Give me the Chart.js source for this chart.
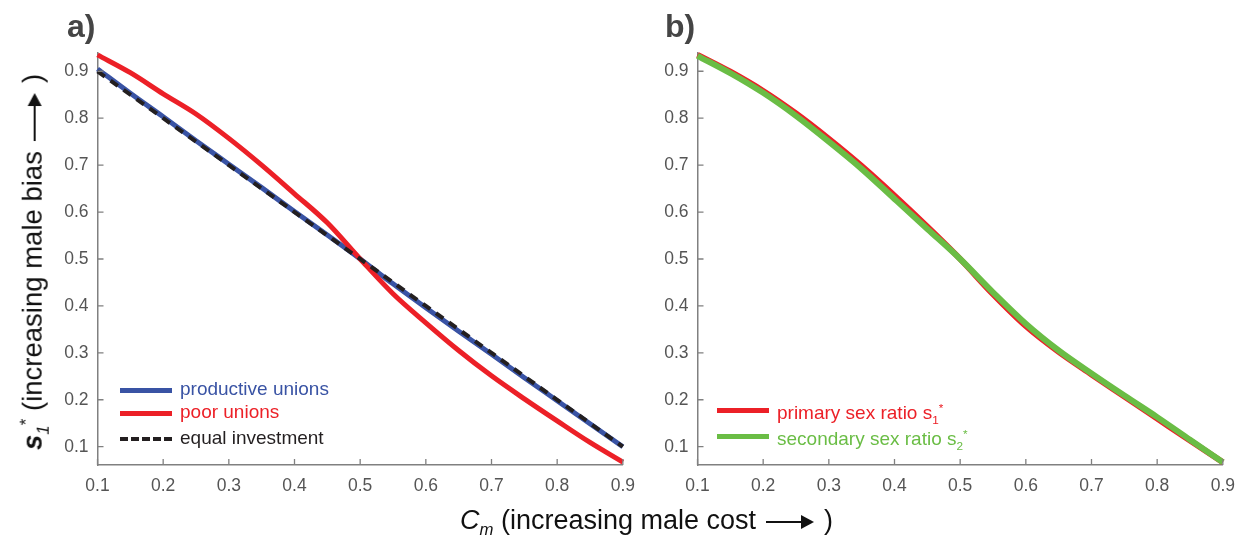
<!DOCTYPE html>
<html>
<head>
<meta charset="utf-8">
<script src="https://cdn.jsdelivr.net/npm/chart.js@4.4.1/dist/chart.umd.min.js"></script>
<style>
  body { margin: 0; background: #fff; width: 1242px; height: 547px; position: relative; overflow: hidden;
         font-family: "Liberation Sans", Arial, sans-serif; }
  .abs { position: absolute; white-space: nowrap; }
  .panel { font-weight: bold; font-size: 32px; color: #454545; }
  .leg { font-size: 19px; line-height: 22px; }
  .sw { position: absolute; width: 52px; height: 0; }
  .title { font-size: 27px; color: #111; }
  sub, sup { font-size: 62%; }
  .arrow { display: inline-block; position: relative; width: 36px; height: 2px; background: #111;
           vertical-align: middle; margin: 0 22px 0 10px; }
  .arrow::after { content: ""; position: absolute; right: -12px; top: -6px; border-left: 13px solid #111;
                  border-top: 7px solid transparent; border-bottom: 7px solid transparent; }
</style>
</head>
<body>

<canvas id="chartA" class="abs" style="left:40px;top:33px" width="606" height="477"></canvas>
<canvas id="chartB" class="abs" style="left:640px;top:33px" width="606" height="477"></canvas>

<div class="abs panel" style="left:67px;top:8px">a)</div>
<div class="abs panel" style="left:665px;top:8px">b)</div>

<!-- legend a -->
<div class="sw" style="left:120px;top:388px;border-top:5px solid #3953a4"></div>
<div class="abs leg" style="left:180px;top:378px;color:#3953a4">productive unions</div>
<div class="sw" style="left:120px;top:411px;border-top:5px solid #ec2027"></div>
<div class="abs leg" style="left:180px;top:401px;color:#ec2027">poor unions</div>
<div class="sw" style="left:120px;top:437px;border-top:4px dashed #231f20;width:52px"></div>
<div class="abs leg" style="left:180px;top:427px;color:#231f20">equal investment</div>

<!-- legend b -->
<div class="sw" style="left:717px;top:408px;border-top:5px solid #ec2027"></div>
<div class="abs leg" style="left:777px;top:397px;color:#ec2027">primary sex ratio s<sub>1</sub><sup>*</sup></div>
<div class="sw" style="left:717px;top:434px;border-top:5px solid #6abd45"></div>
<div class="abs leg" style="left:777px;top:423px;color:#6abd45">secondary sex ratio s<sub>2</sub><sup>*</sup></div>

<!-- axis titles -->
<div class="abs title" style="left:460px;top:505px"><i>C</i><sub><i>m</i></sub> (increasing male cost<span class="arrow"></span>)</div>
<div class="abs title" style="left:35px;top:262px;transform:translate(-50%,-50%) rotate(-90deg);font-size:27.5px"><i><b>s</b></i><sub><i>1</i></sub><sup>*</sup> (increasing male bias<span class="arrow"></span>)</div>

<script>
// male cost values (x)
const cm = [0.1, 0.15, 0.2, 0.25, 0.3, 0.35, 0.4, 0.45, 0.5, 0.55, 0.6, 0.65, 0.7, 0.75, 0.8, 0.85, 0.9];

// panel a
const productiveUnions = [0.905, 0.853, 0.803, 0.752, 0.702, 0.652, 0.601, 0.551, 0.500, 0.447, 0.396, 0.346, 0.297, 0.247, 0.198, 0.149, 0.100];
const poorUnions = [0.935, 0.897, 0.852, 0.809, 0.757, 0.700, 0.639, 0.577, 0.500, 0.426, 0.364, 0.305, 0.251, 0.202, 0.155, 0.109, 0.067];
const equalInvestment = [0.90, 0.85, 0.80, 0.75, 0.70, 0.65, 0.60, 0.55, 0.50, 0.45, 0.40, 0.35, 0.30, 0.25, 0.20, 0.15, 0.10];

// panel b
const primaryRatio = [0.935, 0.899, 0.858, 0.810, 0.756, 0.698, 0.635, 0.569, 0.500, 0.425, 0.357, 0.302, 0.254, 0.207, 0.160, 0.113, 0.067];
const secondaryRatio = [0.933, 0.896, 0.854, 0.805, 0.750, 0.692, 0.628, 0.564, 0.500, 0.429, 0.362, 0.305, 0.256, 0.209, 0.163, 0.115, 0.067];

const xTicks = [0.1, 0.2, 0.3, 0.4, 0.5, 0.6, 0.7, 0.8, 0.9];
const yTicks = [0.1, 0.2, 0.3, 0.4, 0.5, 0.6, 0.7, 0.8, 0.9];

const AXIS = "#808080";

function pts(vals) {
  return cm.map((c, i) => ({ x: c, y: vals[i] }));
}

function line(vals, color, width, dash) {
  return {
    data: pts(vals),
    borderColor: color,
    borderWidth: width,
    borderDash: dash || [],
    pointRadius: 0,
    fill: false,
    cubicInterpolationMode: "monotone",
    clip: false,
  };
}

// ticks drawn inward like the original frame
const tickMarks = {
  id: "tickMarks",
  afterDraw(chart) {
    const { ctx, chartArea, scales } = chart;
    ctx.save();
    ctx.strokeStyle = AXIS;
    ctx.lineWidth = 1.3;
    ctx.beginPath();
    scales.x.ticks.forEach((t) => {
      const px = scales.x.getPixelForValue(t.value);
      ctx.moveTo(px, chartArea.bottom);
      ctx.lineTo(px, chartArea.bottom - 6);
    });
    scales.y.ticks.forEach((t) => {
      const py = scales.y.getPixelForValue(t.value);
      ctx.moveTo(chartArea.left, py);
      ctx.lineTo(chartArea.left + 6, py);
    });
    ctx.stroke();
    ctx.restore();
  },
};

function makeOptions() {
  const tickFont = { family: "'Liberation Sans', Arial, sans-serif", size: 17.5 };
  return {
    responsive: false,
    animation: false,
    devicePixelRatio: 1,
    layout: { padding: { top: 13, right: 17, left: 0, bottom: 0 } },
    plugins: { legend: { display: false }, tooltip: { enabled: false } },
    scales: {
      x: {
        type: "linear",
        min: 0.1,
        max: 0.9,
        afterBuildTicks: (s) => { s.ticks = xTicks.map((v) => ({ value: v })); },
        afterFit: (s) => { s.height = 45; },
        ticks: { color: "#555", font: tickFont, padding: 11, maxRotation: 0,
                 callback: (v) => Number(v).toFixed(1) },
        grid: { display: true, drawOnChartArea: false, drawTicks: false },
        border: { color: AXIS, width: 1.5 },
      },
      y: {
        type: "linear",
        min: 0.061,
        max: 0.94,
        afterBuildTicks: (s) => { s.ticks = yTicks.map((v) => ({ value: v })); },
        afterFit: (s) => { s.width = 57.5; },
        ticks: { color: "#555", font: tickFont, padding: 9,
                 callback: (v) => Number(v).toFixed(1) },
        grid: { display: true, drawOnChartArea: false, drawTicks: false },
        border: { color: AXIS, width: 1.5 },
      },
    },
  };
}

new Chart(document.getElementById("chartA"), {
  type: "line",
  data: {
    datasets: [
      line(equalInvestment, "#231f20", 4, [9, 7]),
      line(poorUnions, "#ec2027", 5),
      line(productiveUnions, "#3953a4", 5),
    ],
  },
  options: makeOptions(),
  plugins: [tickMarks],
});

new Chart(document.getElementById("chartB"), {
  type: "line",
  data: {
    datasets: [
      line(secondaryRatio, "#6abd45", 6),
      line(primaryRatio, "#ec2027", 6),
    ],
  },
  options: makeOptions(),
  plugins: [tickMarks],
});
</script>
</body>
</html>
